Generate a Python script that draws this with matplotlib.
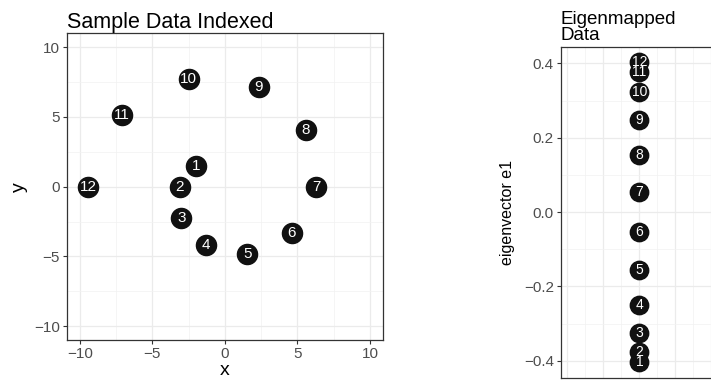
import matplotlib.pyplot as plt
import numpy as np
from matplotlib.ticker import MultipleLocator

# sample points (indexed 1..12)
idx = np.arange(1, 13)
xs = [-2.0, -3.1, -3.0, -1.3, 1.55, 4.6, 6.3, 5.6, 2.35, -2.5, -7.1, -9.4]
ys = [1.5, 0.0, -2.25, -4.2, -4.8, -3.35, 0.0, 4.05, 7.15, 7.75, 5.15, 0.0]
# first eigenvector values
e1 = [-0.404, -0.377, -0.324, -0.249, -0.157, -0.053,
      0.053, 0.155, 0.249, 0.324, 0.378, 0.404]

plt.rcParams['font.family'] = ['Liberation Sans', 'DejaVu Sans']

W, H = 711, 386
fig = plt.figure(figsize=(W / 100, H / 100), dpi=100)


def style(ax):
    for s in ax.spines.values():
        s.set_color('#333333')
        s.set_linewidth(0.9)
    ax.tick_params(which='major', colors='#333333', labelcolor='#4d4d4d',
                   labelsize=11, length=3, width=0.8, pad=2)
    ax.tick_params(which='minor', length=0)
    ax.grid(which='major', color='#ebebeb', linewidth=0.9)
    ax.grid(which='minor', color='#f2f2f2', linewidth=0.5)
    ax.set_axisbelow(True)


def minus(fmt):
    return lambda v, p: format(v, fmt).replace('-', '\u2212')


# left panel
ax1 = fig.add_axes([66.7 / W, (H - 340) / H, (383 - 66.7) / W, (340 - 33.3) / H])
style(ax1)
ax1.scatter(xs, ys, s=210, color='#111111', zorder=3)
for i, x, y in zip(idx, xs, ys):
    ax1.text(x, y, str(i), color='white', fontsize=11, ha='center', va='center', zorder=4)
ax1.set_xlim(-10.9, 10.9)
ax1.set_ylim(-11, 11)
ax1.xaxis.set_major_locator(MultipleLocator(5))
ax1.xaxis.set_minor_locator(MultipleLocator(2.5))
ax1.yaxis.set_major_locator(MultipleLocator(5))
ax1.yaxis.set_minor_locator(MultipleLocator(2.5))
ax1.xaxis.set_major_formatter(minus('g'))
ax1.yaxis.set_major_formatter(minus('g'))
ax1.set_xlabel('x', fontsize=14, labelpad=1)
ax1.set_ylabel('y', fontsize=14, labelpad=4)
ax1.set_title('Sample Data Indexed', loc='left', fontsize=15.5, pad=4)

# right panel (cut off at the figure edge)
ax2 = fig.add_axes([560.7 / W, (H - 378.3) / H, (760 - 560.7) / W, (378.3 - 46.7) / H])
style(ax2)
xe = np.ones(len(e1))
ax2.scatter(xe, e1, s=175, color='#111111', zorder=3)
for i, y in zip(idx, e1):
    ax2.text(1, y, str(i), color='white', fontsize=10, ha='center', va='center', zorder=4)
ax2.set_xlim(-0.092, -0.092 + (760 - 560.7) / 72)
ax2.set_ylim(-0.447, 0.445)
ax2.xaxis.set_major_locator(MultipleLocator(0.5))
ax2.xaxis.set_minor_locator(MultipleLocator(0.25))
ax2.tick_params(axis='x', which='both', bottom=False, labelbottom=False)
ax2.yaxis.set_major_locator(MultipleLocator(0.2))
ax2.yaxis.set_minor_locator(MultipleLocator(0.1))
ax2.yaxis.set_major_formatter(minus('.1f'))
ax2.set_ylabel('eigenvector e1', fontsize=11.5, labelpad=6)
ax2.set_title('Eigenmapped\nData', loc='left', fontsize=13.5, pad=5, linespacing=0.9)

fig.savefig('out.png', dpi=100)
